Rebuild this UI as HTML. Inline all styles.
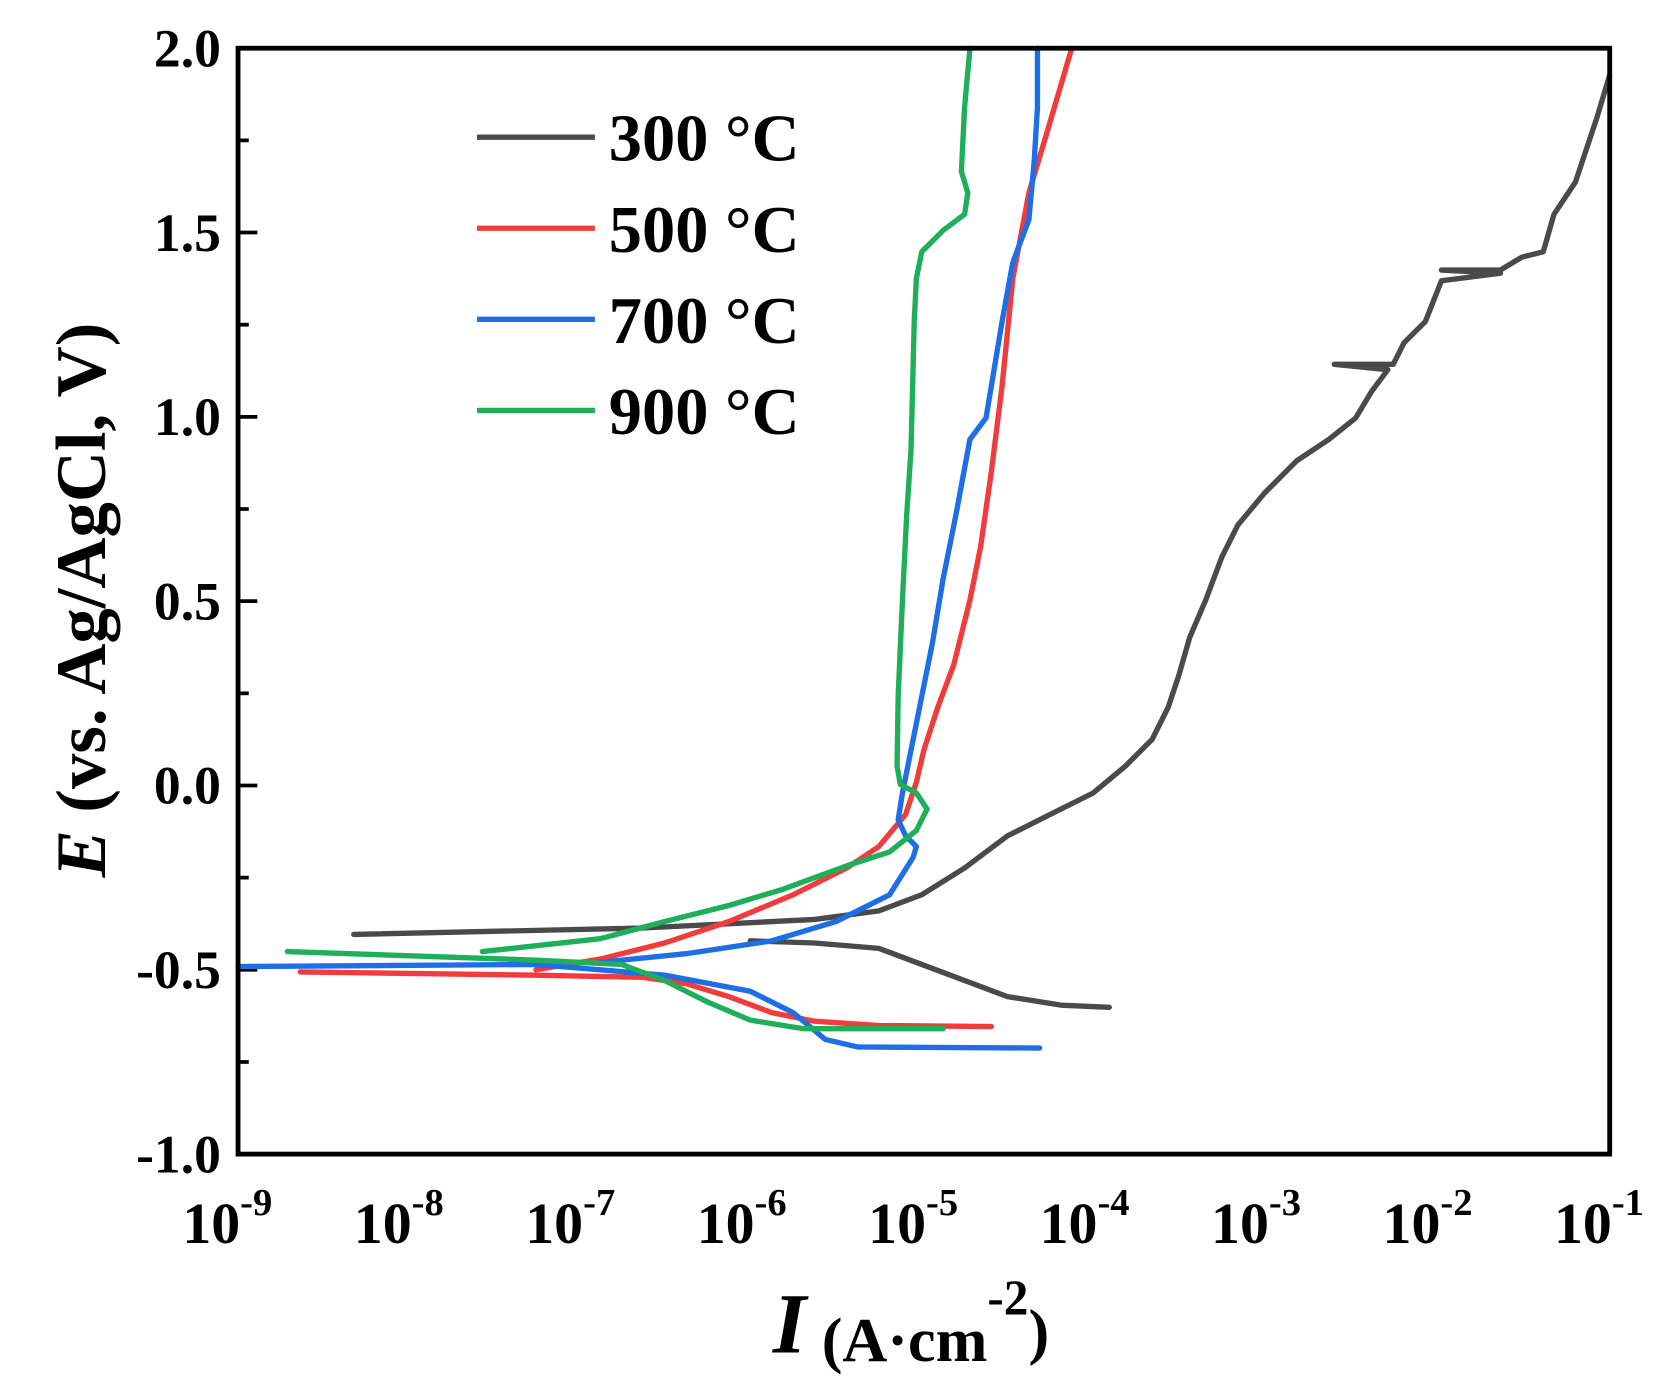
<!DOCTYPE html>
<html><head><meta charset="utf-8"><style>html,body{margin:0;padding:0;background:#fff}svg{display:block}</style></head>
<body>
<svg width="1672" height="1377" viewBox="0 0 1560 1285" xmlns="http://www.w3.org/2000/svg" font-family="Liberation Serif, serif" font-weight="bold">
<rect width="1560" height="1285" fill="#fff"/>
<g stroke="#000" stroke-width="3.5">
<line x1="222" y1="45" x2="240" y2="45"/><line x1="222" y1="131" x2="232" y2="131"/>
<line x1="222" y1="217" x2="240" y2="217"/><line x1="222" y1="303" x2="232" y2="303"/>
<line x1="222" y1="389" x2="240" y2="389"/><line x1="222" y1="475" x2="232" y2="475"/>
<line x1="222" y1="561" x2="240" y2="561"/><line x1="222" y1="647" x2="232" y2="647"/>
<line x1="222" y1="733" x2="240" y2="733"/><line x1="222" y1="819" x2="232" y2="819"/>
<line x1="222" y1="905" x2="240" y2="905"/><line x1="222" y1="991" x2="232" y2="991"/>
</g>
<g stroke="#000" stroke-width="2.5" id="xt"></g>
<g font-size="50" text-anchor="end" fill="#000">
<text x="206" y="62">2.0</text><text x="206" y="234">1.5</text><text x="206" y="406">1.0</text>
<text x="206" y="578">0.5</text><text x="206" y="750">0.0</text><text x="206" y="922">-0.5</text><text x="206" y="1094">-1.0</text>
</g>
<g font-size="54" text-anchor="middle" fill="#000">
<text x="212" y="1160">10<tspan font-size="36" dy="-26">-9</tspan></text>
<text x="372" y="1160">10<tspan font-size="36" dy="-26">-8</tspan></text>
<text x="532" y="1160">10<tspan font-size="36" dy="-26">-7</tspan></text>
<text x="692" y="1160">10<tspan font-size="36" dy="-26">-6</tspan></text>
<text x="852" y="1160">10<tspan font-size="36" dy="-26">-5</tspan></text>
<text x="1012" y="1160">10<tspan font-size="36" dy="-26">-4</tspan></text>
<text x="1172" y="1160">10<tspan font-size="36" dy="-26">-3</tspan></text>
<text x="1332" y="1160">10<tspan font-size="36" dy="-26">-2</tspan></text>
<text x="1492" y="1160">10<tspan font-size="36" dy="-26">-1</tspan></text>
</g>
<text x="850" y="1262" font-size="80" text-anchor="middle"><tspan font-style="italic">I</tspan><tspan font-size="58" dy="8"> (A·cm</tspan><tspan font-size="46" dy="-44">-2</tspan><tspan font-size="58" dy="36">)</tspan></text>
<text transform="translate(98,560) rotate(-90)" font-size="66" text-anchor="middle"><tspan font-style="italic">E</tspan> (vs. Ag/AgCl, V)</text>
<g fill="none" stroke-width="5" stroke-linejoin="round" stroke-linecap="round">
<path stroke="#4a4a4a" d="M330,872 L600,866 760,858 820,850 860,835 900,810 940,780 980,760 1020,740 1050,715 1075,690 1090,660 1100,630 1110,595 1125,560 1140,520 1155,490 1180,460 1210,430 1240,410 1265,390 1280,365 1295,345 1245,340 1300,340 1310,320 1330,300 1345,262 1400,255 1345,252 1400,252 1420,240 1440,235 1450,200 1470,170 1490,110 1502,70"/>
<path stroke="#4a4a4a" d="M700,878 L760,880 820,885 860,900 900,915 940,930 990,938 1035,940"/>
<path stroke="#f03c3c" d="M280,907 L500,910 600,912 640,918 680,930 720,945 760,953 820,957 925,958"/>
<path stroke="#f03c3c" d="M500,905 L560,895 620,880 680,860 740,835 790,810 820,790 845,760 855,730 862,700 875,660 890,620 905,560 915,510 925,440 935,360 945,260 960,180 975,130 1000,45"/>
<path stroke="#1e6fe6" d="M222,902 L500,900 620,910 700,925 740,945 770,970 800,977 970,978"/>
<path stroke="#1e6fe6" d="M560,898 L640,890 720,878 780,860 830,835 852,800 855,790 845,780 838,765 842,740 850,700 860,650 870,600 880,540 892,480 905,410 920,390 935,300 945,245 960,205 965,150 968,100 968,45"/>
<path stroke="#1fae5a" d="M268,888 L500,896 580,900 620,915 660,935 700,952 750,960 880,960"/>
<path stroke="#1fae5a" d="M450,888 L560,876 620,860 680,845 730,830 790,808 830,795 855,775 865,755 855,740 840,732 837,715 838,650 842,560 846,480 850,420 853,300 855,260 860,235 880,215 900,200 903,180 897,160 900,100 905,45"/>
</g>
<rect x="222" y="45" width="1280" height="1032" fill="none" stroke="#000" stroke-width="4.5"/>
<g stroke-width="5">
<line x1="445" y1="128" x2="555" y2="128" stroke="#4a4a4a"/>
<line x1="445" y1="213" x2="555" y2="213" stroke="#f03c3c"/>
<line x1="445" y1="298" x2="555" y2="298" stroke="#1e6fe6"/>
<line x1="445" y1="383" x2="555" y2="383" stroke="#1fae5a"/>
</g>
<g font-size="62" fill="#000">
<text x="568" y="150">300 °C</text><text x="568" y="235">500 °C</text>
<text x="568" y="320">700 °C</text><text x="568" y="405">900 °C</text>
</g>
<script>
var g=document.getElementById('xt'),s='';
for(var d=0;d<8;d++){var b=222+d*160;
 if(d>0)s+='<line x1="'+b+'" y1="1077" x2="'+b+'" y2="1061"/>';
 for(var k=2;k<10;k++){var x=b+Math.log10(k)*160;s+='<line x1="'+x+'" y1="1077" x2="'+x+'" y2="1068"/>';}}
g.innerHTML=s;
</script>
</svg>
</body></html>
